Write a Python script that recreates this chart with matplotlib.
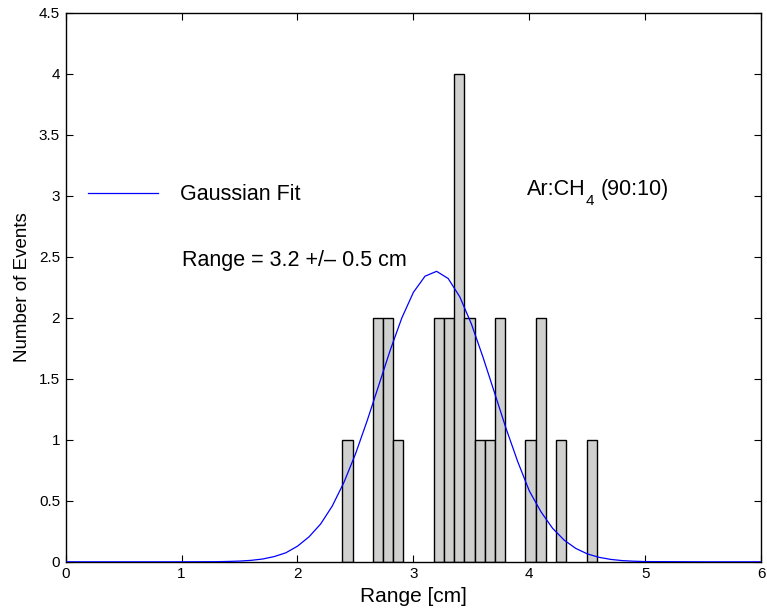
import numpy as np
import matplotlib
matplotlib.use("Agg")
import matplotlib.pyplot as plt

plt.rcParams['font.family'] = ['Liberation Sans', 'DejaVu Sans']

# histogram of measured ranges (bin centres in cm, counts)
bin_centres = [2.431, 2.694, 2.782, 2.870, 3.221, 3.309, 3.396, 3.484,
               3.572, 3.660, 3.747, 4.010, 4.098, 4.273, 4.537]
counts = [1, 2, 2, 1, 2, 2, 4, 2, 1, 1, 2, 1, 2, 1, 1]
bin_width = 0.0877

# gaussian fit curve
fit_x = [0.0, 0.5, 1.0, 1.3, 1.4, 1.5, 1.6, 1.7, 1.8, 1.9, 2.0, 2.1, 2.2, 2.3,
         2.4, 2.5, 2.6, 2.7, 2.8, 2.9, 3.0, 3.1, 3.2, 3.3, 3.4, 3.5, 3.6,
         3.7, 3.8, 3.9, 4.0, 4.1, 4.2, 4.3, 4.4, 4.5, 4.6, 4.7, 4.8, 4.9,
         5.0, 5.5, 6.0]
fit_y = [0.0, 0.0, 0.0, 0.001, 0.003, 0.006, 0.012, 0.023, 0.043, 0.074,
         0.128, 0.205, 0.31, 0.457, 0.649, 0.883, 1.153, 1.443, 1.734,
         1.998, 2.208, 2.340, 2.380, 2.321, 2.171, 1.949, 1.677, 1.384,
         1.090, 0.820, 0.580, 0.410, 0.275, 0.178, 0.110, 0.065, 0.037,
         0.020, 0.010, 0.005, 0.002, 0.0, 0.0]

fig = plt.figure(figsize=(7.67, 6.13), dpi=100)
ax = fig.add_axes([0.0855, 0.0835, 0.907, 0.896])

ax.bar(bin_centres, counts, width=bin_width, color='#d0d1cf',
       edgecolor='black', linewidth=1.0, zorder=2)
ax.plot(fit_x, fit_y, color='#0000ff', linewidth=0.9, zorder=3,
        label='Gaussian Fit')

ax.set_xlim(0, 6)
ax.set_ylim(0, 4.5)
ax.set_xticks([0, 1, 2, 3, 4, 5, 6])
ax.set_yticks([0, 0.5, 1, 1.5, 2, 2.5, 3, 3.5, 4, 4.5])
ax.set_yticklabels(['0', '0.5', '1', '1.5', '2', '2.5', '3', '3.5', '4', '4.5'])
ax.tick_params(direction='in', length=5, width=0.8, labelsize=11,
               top=True, right=True, pad=4)
for s in ax.spines.values():
    s.set_linewidth(1.0)

ax.set_xlabel('Range [cm]', fontsize=15, labelpad=4)
ax.set_ylabel('Number of Events', fontsize=13.5, labelpad=6)

leg = ax.legend(loc='center left', bbox_to_anchor=(0.032, 0.668),
                frameon=False, fontsize=15.5, handlelength=3.25,
                handletextpad=1.05, borderpad=0, borderaxespad=0)

ax.text(1.0, 2.47, 'Range = 3.2 +/\u2013 0.5 cm', fontsize=15.5,
        ha='left', va='center')

# Ar:CH4 label with a low subscript
t1 = ax.text(3.975, 3.05, 'Ar:CH', fontsize=15.5, ha='left', va='center')
ax.annotate('4', xy=(1, 0), xycoords=t1, xytext=(0.5, -3.5),
            textcoords='offset points', fontsize=11, ha='left', va='baseline')
ax.annotate('(90:10)', xy=(1, 0), xycoords=t1, xytext=(11.5, 0),
            textcoords='offset points', fontsize=15.5, ha='left', va='bottom')

plt.savefig('out.png', dpi=100)
